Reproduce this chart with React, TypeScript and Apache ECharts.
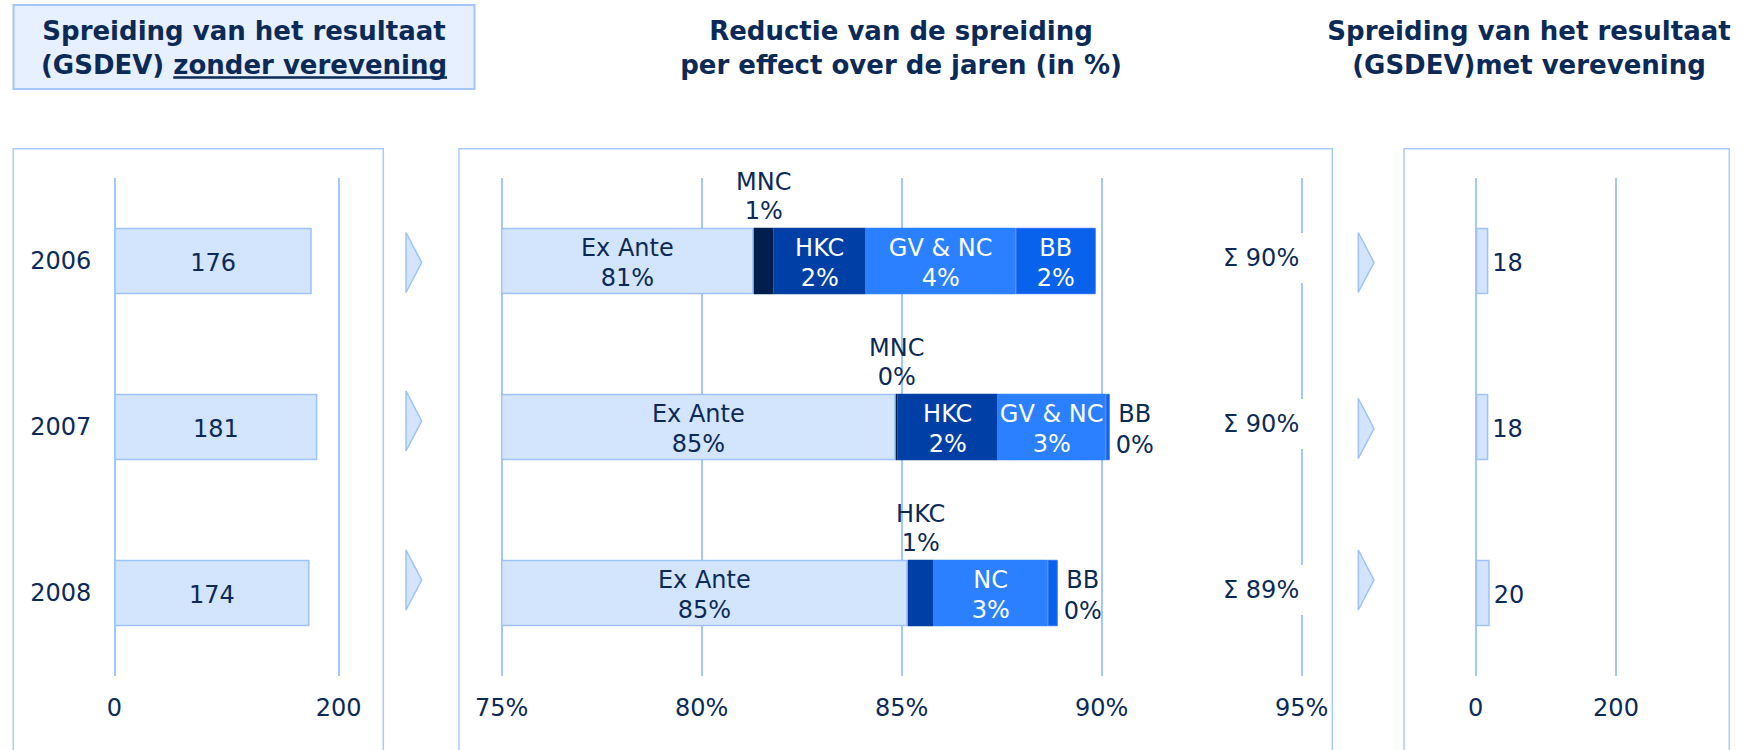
import React, { useEffect, useRef } from 'react';
import * as echarts from 'echarts';

// ---- data ----
const years = ['2006', '2007', '2008'];
const spreadBefore = [176, 181, 174];
const spreadAfter = [18, 18, 20];
const exAnte = [81.3, 84.85, 85.15];
const mnc = [0.5, 0.05, 0];
const hkc = [2.3, 2.5, 0.65];
const gvnc = [3.75, 2.7, 2.85];
const bb = [2.0, 0.1, 0.25];
const exAnteLabels = ['81%', '85%', '85%'];
const mncLabels = ['1%', '0%', ''];
const hkcLabels = ['2%', '2%', '1%'];
const gvncNames = ['GV & NC', 'GV & NC', 'NC'];
const gvncLabels = ['4%', '3%', '3%'];
const bbLabels = ['2%', '0%', '0%'];
const totalLabels = ['Σ 90%', 'Σ 90%', 'Σ 89%'];
const leftTicks = [0, 200];
const midTicks = [75, 80, 85, 90, 95];
const rightTicks = [0, 200];

const title1a = 'Spreiding van het resultaat';
const title1b = '(GSDEV) ';
const title1c = 'zonder verevening';
const title2a = 'Reductie van de spreiding';
const title2b = 'per effect over de jaren (in %)';
const title3a = 'Spreiding van het resultaat';
const title3b = '(GSDEV)met verevening';

// ---- styles ----
const NAVY = '#0B2A57';
const FONT = '"DejaVu Sans", Verdana, sans-serif';
const LINE = '#A3C6FB';
const LIGHT = '#D3E4FD';
const LIGHT_BORDER = '#9DC3FA';
const C_MNC = '#001F4F';
const C_HKC = '#0040A6';
const C_GV = '#2B80FF';
const C_BB = '#0862EB';
const FS = 24;

const gridTop = 178;
const gridH = 498;

export default function App() {
  const ref = useRef<HTMLDivElement>(null);

  useEffect(() => {
    document.body.style.margin = '0';
    const chart = echarts.init(ref.current!, null, { renderer: 'svg' });

    // measure underline for title 1
    const cv = document.createElement('canvas');
    const ctx = cv.getContext('2d')!;
    ctx.font = 'bold 26px "DejaVu Sans"';
    const t1cx = 244;
    const full = ctx.measureText(title1b + title1c).width;
    const pre = ctx.measureText(title1b).width;
    const sub = ctx.measureText(title1c).width;
    const ulStart = t1cx - full / 2 + pre;

    const labelBase = { fontFamily: FONT, fontSize: FS, lineHeight: 30 };

    const mkItem = (value: number, text: string, big: boolean, dark: boolean, outsidePos: string) => {
      if (!value) return { value, label: { show: false } };
      if (big) {
        return {
          value,
          label: { show: true, position: 'inside', offset: [0, 2], formatter: text, color: dark ? '#FFFFFF' : NAVY, ...labelBase },
        };
      }
      if (outsidePos === 'top') {
        return {
          value,
          label: { show: true, position: 'top', distance: 2, formatter: text, color: NAVY, ...labelBase, lineHeight: 29 },
        };
      }
      return {
        value,
        label: {
          show: true, position: 'right', distance: 0, align: 'center', offset: [25, 2],
          formatter: text, color: NAVY, ...labelBase, lineHeight: 31,
        },
      };
    };

    const valueAxisCommon = {
      type: 'value',
      axisLine: { show: false },
      axisTick: { show: false },
      splitLine: { show: true, lineStyle: { color: LINE, width: 2 } },
      axisLabel: { color: NAVY, fontSize: FS, fontFamily: FONT, margin: 20 },
    };
    const catAxisCommon = {
      type: 'category',
      data: years,
      inverse: true,
      axisLine: { show: false },
      axisTick: { show: false },
      splitLine: { show: false },
    };

    const stackStyle = (color: string, border?: string, bw = 0) => ({
      color, borderColor: border || color, borderWidth: bw,
    });

    const chevron = (x: number, cy: number) => ({
      type: 'polygon',
      silent: true,
      shape: { points: [[x, cy - 30], [x + 15.7, cy], [x, cy + 30]] },
      style: { fill: LIGHT, stroke: LIGHT_BORDER, lineWidth: 1.5 },
    });

    const titleText = (text: string, x: number, y: number) => ({
      type: 'text',
      x, y,
      silent: true,
      style: {
        text, fill: NAVY,
        font: 'bold 26px "DejaVu Sans"',
        fontFamily: FONT, fontSize: 26, fontWeight: 'bold',
        textAlign: 'center', align: 'center',
        textVerticalAlign: 'middle', verticalAlign: 'middle',
      },
    });

    const option: any = {
      animation: false,
      textStyle: { fontFamily: FONT },
      grid: [
        { left: 114.3, top: gridTop, width: 224.4, height: gridH, outerBoundsMode: 'none' },
        { left: 501.7, top: gridTop, width: 800, height: gridH, outerBoundsMode: 'none' },
        { left: 1475.7, top: gridTop, width: 140.3, height: gridH, outerBoundsMode: 'none' },
      ],
      xAxis: [
        { ...valueAxisCommon, gridIndex: 0, min: leftTicks[0], max: leftTicks[leftTicks.length - 1], interval: leftTicks[1] - leftTicks[0] },
        {
          ...valueAxisCommon, gridIndex: 1, min: midTicks[0], max: midTicks[midTicks.length - 1], interval: midTicks[1] - midTicks[0],
          axisLabel: { ...valueAxisCommon.axisLabel, formatter: '{value}%' },
        },
        { ...valueAxisCommon, gridIndex: 2, min: rightTicks[0], max: rightTicks[rightTicks.length - 1], interval: rightTicks[1] - rightTicks[0] },
      ],
      yAxis: [
        { ...catAxisCommon, gridIndex: 0, axisLabel: { color: NAVY, fontSize: FS, fontFamily: FONT, margin: 23, padding: [3, 0, 0, 0] } },
        { ...catAxisCommon, gridIndex: 1, axisLabel: { show: false } },
        { ...catAxisCommon, gridIndex: 2, axisLabel: { show: false } },
      ],
      series: [
        {
          name: 'Zonder verevening', type: 'bar', xAxisIndex: 0, yAxisIndex: 0,
          barWidth: '40%', data: spreadBefore,
          itemStyle: { color: LIGHT, borderColor: LIGHT_BORDER, borderWidth: 1.5 },
          label: { show: true, position: 'inside', offset: [0, 2], color: NAVY, ...labelBase },
        },
        {
          name: 'Ex Ante', type: 'bar', stack: 'r', xAxisIndex: 1, yAxisIndex: 1, barWidth: '40%',
          itemStyle: stackStyle(LIGHT, LIGHT_BORDER, 1.5),
          data: exAnte.map((v, i) => mkItem(v, `Ex Ante\n${exAnteLabels[i]}`, true, false, 'top')),
        },
        {
          name: 'MNC', type: 'bar', stack: 'r', xAxisIndex: 1, yAxisIndex: 1, barWidth: '40%',
          itemStyle: stackStyle(C_MNC),
          data: mnc.map((v, i) => mkItem(v, `MNC\n${mncLabels[i]}`, false, true, 'top')),
        },
        {
          name: 'HKC', type: 'bar', stack: 'r', xAxisIndex: 1, yAxisIndex: 1, barWidth: '40%',
          itemStyle: stackStyle(C_HKC),
          data: hkc.map((v, i) => mkItem(v, `HKC\n${hkcLabels[i]}`, v >= 1, true, 'top')),
        },
        {
          name: 'GV & NC', type: 'bar', stack: 'r', xAxisIndex: 1, yAxisIndex: 1, barWidth: '40%',
          itemStyle: stackStyle(C_GV),
          data: gvnc.map((v, i) => mkItem(v, `${gvncNames[i]}\n${gvncLabels[i]}`, true, true, 'top')),
        },
        {
          name: 'BB', type: 'bar', stack: 'r', xAxisIndex: 1, yAxisIndex: 1, barWidth: '40%',
          itemStyle: stackStyle(C_BB, '#2D6BF5', 1),
          data: bb.map((v, i) => mkItem(v, `BB\n${bbLabels[i]}`, v >= 1, true, 'right')),
        },
        {
          name: 'Totaal', type: 'scatter', xAxisIndex: 1, yAxisIndex: 1,
          symbolSize: 1, itemStyle: { color: 'rgba(255,255,255,0)', opacity: 1 }, silent: true, z: 5,
          data: years.map((y, i) => ({
            value: [midTicks[midTicks.length - 1], y],
            label: { formatter: totalLabels[i] },
          })),
          label: {
            show: true, position: 'left', distance: 0, offset: [4, -3],
            backgroundColor: '#FFFFFF', padding: [13, 6, 13, 6],
            color: NAVY, opacity: 1, textBorderWidth: 0, fontFamily: FONT, fontSize: FS,
          },
        },
        {
          name: 'Met verevening', type: 'bar', xAxisIndex: 2, yAxisIndex: 2,
          barWidth: '40%', data: spreadAfter,
          itemStyle: { color: LIGHT, borderColor: LIGHT_BORDER, borderWidth: 1.5 },
          label: { show: true, position: 'right', distance: 4, offset: [0, 2], color: NAVY, ...labelBase },
        },
      ],
      graphic: [
        {
          type: 'rect', silent: true, z: -1,
          shape: { x: 13.5, y: 5, width: 461, height: 84 },
          style: { fill: '#E6F0FE', stroke: '#A4C6FB', lineWidth: 2 },
        },
        { type: 'rect', silent: true, shape: { x: 13.3, y: 148.7, width: 370, height: 700 }, style: { fill: 'none', stroke: '#A9CBFB', lineWidth: 1.5 } },
        { type: 'rect', silent: true, shape: { x: 459, y: 148.7, width: 873.3, height: 700 }, style: { fill: 'none', stroke: '#A9CBFB', lineWidth: 1.5 } },
        { type: 'rect', silent: true, shape: { x: 1404, y: 148.7, width: 325.3, height: 700 }, style: { fill: 'none', stroke: '#A9CBFB', lineWidth: 1.5 } },
        titleText(title1a, t1cx, 31),
        titleText(title1b + title1c, t1cx, 65),
        {
          type: 'line', silent: true,
          shape: { x1: ulStart, y1: 77.5, x2: ulStart + sub, y2: 77.5 },
          style: { stroke: NAVY, lineWidth: 2.5 },
        },
        titleText(title2a, 901, 31),
        titleText(title2b, 901, 65),
        titleText(title3a, 1529, 31),
        titleText(title3b, 1529, 65),
        chevron(406, 262.5),
        chevron(406, 421),
        chevron(406, 580),
        chevron(1358.3, 262.5),
        chevron(1358.3, 428.5),
        chevron(1358.3, 580),
      ],
    };

    chart.setOption(option);
    return () => chart.dispose();
  }, []);

  return (
    <div
      ref={ref}
      style={{ position: 'absolute', left: 0, top: 0, width: 1743, height: 750, background: '#FFFFFF' }}
    />
  );
}
